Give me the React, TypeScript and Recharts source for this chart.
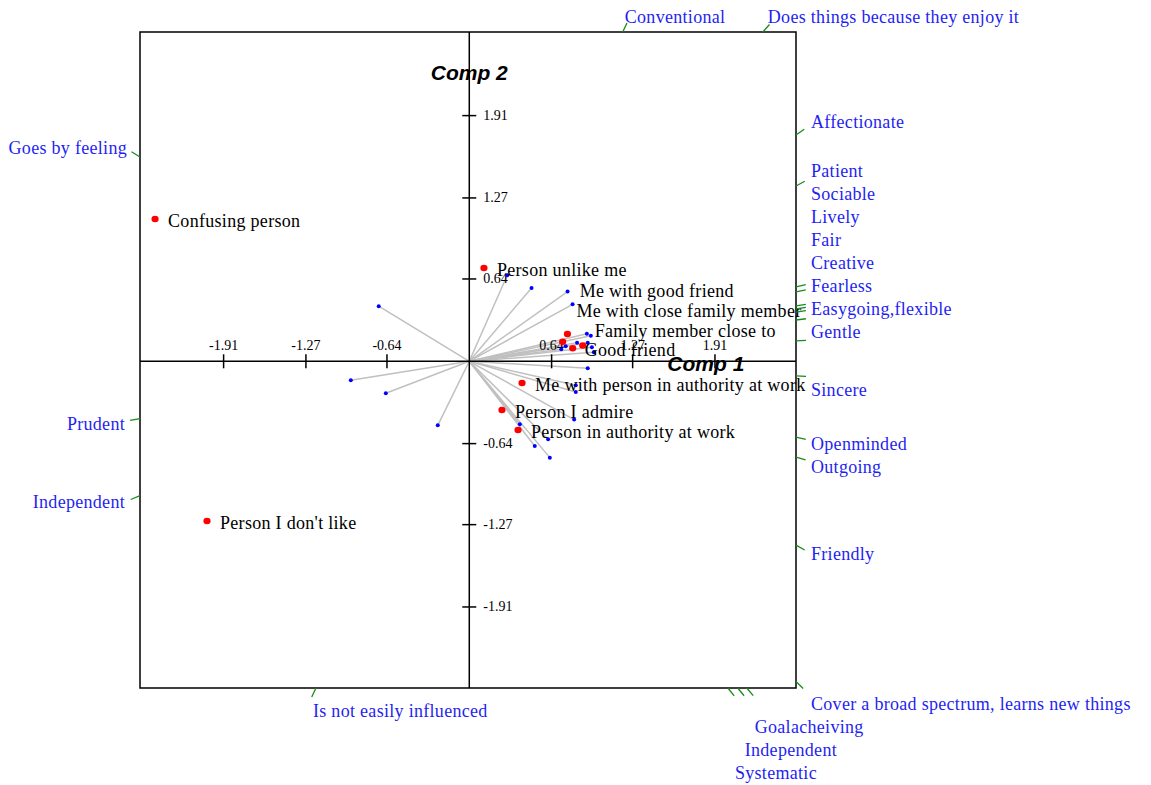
import React from 'react';
import { ScatterChart, Scatter, XAxis, YAxis, ReferenceLine, ReferenceArea } from 'recharts';

// plot domain (component scores)
const X_DOMAIN: [number, number] = [-2.56, 2.54];
const Y_DOMAIN: [number, number] = [-2.54, 2.56];

// axis tick values
const xTicks = [-1.91, -1.27, -0.64, 0.64, 1.27, 1.91];
const yTicks = [1.91, 1.27, 0.64, -0.64, -1.27, -1.91];

// elements (red points)
const personNames = [
  'Confusing person', 'Person unlike me', 'Me with good friend', 'Me with close family member',
  'Family member close to', 'Good friend', 'Me with person in authority at work',
  'Person I admire', 'Person in authority at work', "Person I don't like",
];
const personX = [-2.443, 0.114, 0.726, 0.763, 0.882, 0.804, 0.41, 0.254, 0.379, -2.039];
const personY = [1.106, 0.725, 0.152, 0.212, 0.123, 0.101, -0.169, -0.379, -0.534, -1.242];

// construct vectors (blue points)
const vecX = [-0.704, -0.921, -0.649, -0.245, 0.295, 0.484, 0.764, 0.803, 0.914, 0.945, 0.838, 0.921,
  0.953, 0.715, 0.75, 0.968, 0.921, 0.828, 0.828, 0.815, 0.393, 0.613, 0.509, 0.626];
const vecY = [0.428, -0.148, -0.249, -0.498, 0.669, 0.57, 0.542, 0.443, 0.214, 0.198, 0.145, 0.144,
  0.109, 0.093, 0.117, 0.07, -0.054, -0.187, -0.239, -0.453, -0.49, -0.607, -0.659, -0.749];

// construct poles where vectors meet the frame
const poleNames = [
  'Conventional', 'Does things because they enjoy it', 'Affectionate', 'Patient', 'Sociable', 'Lively',
  'Fair', 'Creative', 'Fearless', 'Easygoing,flexible', 'Gentle', 'Sincere', 'Openminded', 'Outgoing',
  'Friendly', 'Cover a broad spectrum, learns new things', 'Goalacheiving', 'Independent', 'Systematic',
  'Is not easily influenced', 'Goes by feeling', 'Prudent', 'Independent',
];
const poleX = [1.193, 2.282, 2.54, 2.54, 2.54, 2.54, 2.54, 2.54, 2.54, 2.54, 2.54, 2.54, 2.54, 2.54,
  2.54, 2.54, 2.157, 2.087, 2.011, -1.192, -2.56, -2.56, -2.56];
const poleY = [2.56, 2.56, 1.759, 1.363, 0.578, 0.539, 0.43, 0.407, 0.383, 0.321, 0.158, -0.114, -0.589,
  -0.745, -1.429, -2.49, -2.54, -2.54, -2.54, -2.54, 1.588, -0.446, -1.045];

// label placement (px) relative to the pole tick: [dx, dy, anchor]
const poleLabelLayout: [number, number, string][] = [
  [2, -15, 'start'], [5, -15, 'start'], [15, -13, 'start'], [15, -15, 'start'], [15, -93, 'start'],
  [15, -75, 'start'], [15, -66, 'start'], [15, -46, 'start'], [15, -26, 'start'], [15, -11, 'start'],
  [15, -9, 'start'], [15, 14, 'start'], [15, 7, 'start'], [15, 10, 'start'], [15, 9, 'start'],
  [15, 22, 'start'], [8, 39, 'start'], [7, 62, 'start'], [7, 85, 'start'], [-3, 23, 'start'],
  [-13, -9, 'end'], [-15, 5, 'end'], [-15, 6, 'end'],
];

// label nudges for crowded red points
const personLabelLayout: Record<string, [number, number]> = {
  'Me with good friend': [17, -51],
  'Me with close family member': [9, -23],
  'Family member close to': [12, -14],
  'Good friend': [12, 2],
};

const SERIF = '"Liberation Serif", "Times New Roman", serif';
const SANS = '"Liberation Sans", Arial, sans-serif';
const BLUE = '#1f1ff2';

const persons = personNames.map((name, i) => ({ name, x: personX[i], y: personY[i] }));
const vectors = vecX.map((x, i) => ({ x, y: vecY[i] }));
const poles = poleNames.map((name, i) => ({ name, x: poleX[i], y: poleY[i], i }));
const xTickData = xTicks.map((t) => ({ x: t, y: 0, t }));
const yTickData = yTicks.map((t) => ({ x: 0, y: t, t }));
const titles = [
  { x: 0, y: 2.247, label: 'Comp 2' },
  { x: 1.839, y: -0.02, label: 'Comp 1' },
];

const PersonShape = (props: any) => {
  const { cx, cy, payload } = props;
  const off = personLabelLayout[payload.name] || [13, 2];
  return (
    <g>
      <ellipse cx={cx} cy={cy} rx={3.6} ry={3.2} fill="#ff0000" />
      <text x={cx + off[0]} y={cy + off[1]} dominantBaseline="central" fontFamily={SERIF} fontSize={18}
        letterSpacing={0.3} fill="#000">
        {payload.name}
      </text>
    </g>
  );
};

const VectorShape = (props: any) => <circle cx={props.cx} cy={props.cy} r={2} fill="#0000ff" />;

const PoleShape = (props: any) => {
  const { cx, cy, payload } = props;
  const len = Math.hypot(payload.x, payload.y);
  const ux = payload.x / len;
  const uy = -payload.y / len;
  const [dx, dy, anchor] = poleLabelLayout[payload.i];
  return (
    <g>
      <line x1={cx} y1={cy} x2={cx + ux * 10} y2={cy + uy * 10} stroke="#1a8a1a" strokeWidth={1.3} />
      <text x={cx + dx} y={cy + dy} dominantBaseline="central" textAnchor={anchor as any}
        fontFamily={SERIF} fontSize={18} letterSpacing={0.3} fill={BLUE}>
        {payload.name}
      </text>
    </g>
  );
};

const XTickShape = (props: any) => {
  const { cx, cy, payload } = props;
  return (
    <g>
      <line x1={cx} y1={cy - 7} x2={cx} y2={cy + 7} stroke="#000" strokeWidth={1.5} />
      <text x={cx} y={cy - 16} textAnchor="middle" dominantBaseline="central" fontFamily={SERIF} fontSize={14} fill="#000">
        {payload.t.toFixed(2)}
      </text>
    </g>
  );
};

const YTickShape = (props: any) => {
  const { cx, cy, payload } = props;
  return (
    <g>
      <line x1={cx - 7} y1={cy} x2={cx + 7} y2={cy} stroke="#000" strokeWidth={1.5} />
      <text x={cx + 14} y={cy} textAnchor="start" dominantBaseline="central" fontFamily={SERIF} fontSize={14} fill="#000">
        {payload.t.toFixed(2)}
      </text>
    </g>
  );
};

const TitleShape = (props: any) => (
  <text x={props.cx} y={props.cy} textAnchor="middle" dominantBaseline="central" fontFamily={SANS}
    fontSize={21} fontWeight="bold" fontStyle="italic" fill="#000">
    {props.payload.label}
  </text>
);

export default function App() {
  // the page keeps its 8px margin; the chart runs into the bottom margin, so stop the page from scrolling
  return (
    <div style={{ width: 1135, height: 777, background: '#fff' }}>
      <style>{'html, body { overflow: hidden; }'}</style>
      <ScatterChart width={1135} height={777} margin={{ top: 24, right: 347, bottom: 97, left: 132 }}>
        <XAxis type="number" dataKey="x" domain={X_DOMAIN} hide />
        <YAxis type="number" dataKey="y" domain={Y_DOMAIN} hide />
        <ReferenceArea x1={X_DOMAIN[0]} x2={X_DOMAIN[1]} y1={Y_DOMAIN[0]} y2={Y_DOMAIN[1]}
          fill="#fff" fillOpacity={0} stroke="#000" strokeWidth={1.5} />
        {vectors.map((v, i) => (
          <ReferenceLine key={'v' + i} segment={[{ x: 0, y: 0 }, { x: v.x, y: v.y }]} stroke="#c0c0c0" strokeWidth={1.5} />
        ))}
        <ReferenceLine x={0} stroke="#000" strokeWidth={1.5} />
        <ReferenceLine y={0} stroke="#000" strokeWidth={1.5} />
        <Scatter data={xTickData} shape={XTickShape} isAnimationActive={false} />
        <Scatter data={yTickData} shape={YTickShape} isAnimationActive={false} />
        <Scatter data={vectors} shape={VectorShape} isAnimationActive={false} />
        <Scatter data={persons} shape={PersonShape} isAnimationActive={false} />
        <Scatter data={poles} shape={PoleShape} isAnimationActive={false} />
        <Scatter data={titles} shape={TitleShape} isAnimationActive={false} />
      </ScatterChart>
    </div>
  );
}
